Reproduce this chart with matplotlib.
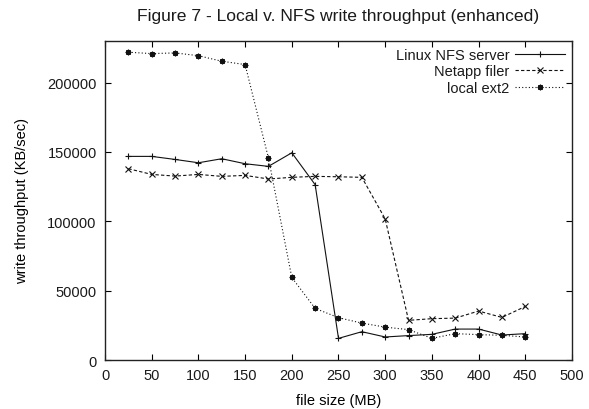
# Figure 7 - local vs NFS write throughput, gnuplot-style recreation

import matplotlib
matplotlib.use("Agg")
import matplotlib.pyplot as plt

file_size = [25, 50, 75, 100, 125, 150, 175, 200, 225,
             250, 275, 300, 325, 350, 375, 400, 425, 450]

linux_nfs = [146800, 146800, 144600, 142200, 145100, 141500, 139600, 149400, 126400,
             15600, 20400, 16600, 17600, 18500, 22300, 22300, 18000, 19000]

netapp = [137900, 133800, 132600, 133800, 132400, 133100, 130500, 131700, 132400,
          132100, 131700, 101700, 28600, 29800, 30200, 35300, 30700, 38600]

local_ext2 = [221900, 220900, 221400, 219400, 215400, 213000, 145600, 59500, 37200,
              30500, 26600, 23700, 21900, 15600, 19000, 18300, 17800, 16600]

x_ticks = list(range(0, 501, 50))
y_ticks = list(range(0, 200001, 50000))


def main():
    plt.rcParams['font.family'] = ['Liberation Sans', 'DejaVu Sans']
    plt.rcParams['font.size'] = 10.5
    plt.rcParams['text.color'] = '#1a1a1a'
    plt.rcParams['xtick.labelcolor'] = '#1a1a1a'
    plt.rcParams['ytick.labelcolor'] = '#1a1a1a'

    fig = plt.figure(figsize=(5.89, 4.10), dpi=100)
    ax = fig.add_axes([0.1783, 0.1195, 0.9711 - 0.1783, 0.8976 - 0.1195])

    asterisk = (8, 2, 0)
    ax.plot(file_size, linux_nfs, color='#111111', lw=0.8, ls='-',
            marker='+', ms=5, mew=0.8, label='Linux NFS server')
    ax.plot(file_size, netapp, color='#111111', lw=0.8, ls=(0, (3, 2)),
            marker='x', ms=4, mew=0.8, label='Netapp filer')
    ax.plot(file_size, local_ext2, color='#111111', lw=0.8, ls=(0, (1, 2)),
            marker=asterisk, ms=4, mew=0.9, label='local ext2')

    ax.set_xlim(0, 500)
    ax.set_ylim(0, 230000)
    ax.set_xticks(x_ticks)
    ax.set_yticks(y_ticks)
    ax.tick_params(direction='in', length=4, width=0.8, top=True, right=True, pad=6)
    for sp in ax.spines.values():
        sp.set_linewidth(1.0)
        sp.set_color('#222222')

    ax.set_xlabel('file size (MB)', labelpad=8)
    ax.set_ylabel('write throughput (KB/sec)', labelpad=13)
    ax.set_title('Figure 7 - Local v. NFS write throughput (enhanced)', pad=15)

    leg = ax.legend(loc='upper right', frameon=False, markerfirst=False,
                    handlelength=3.4, handletextpad=0.4, labelspacing=0.15,
                    borderaxespad=0.3, borderpad=0.2)
    for t in leg.get_texts():
        t.set_ha('right')

    fig.savefig('out.png', dpi=100)
    plt.close(fig)


if __name__ == "__main__":
    main()
